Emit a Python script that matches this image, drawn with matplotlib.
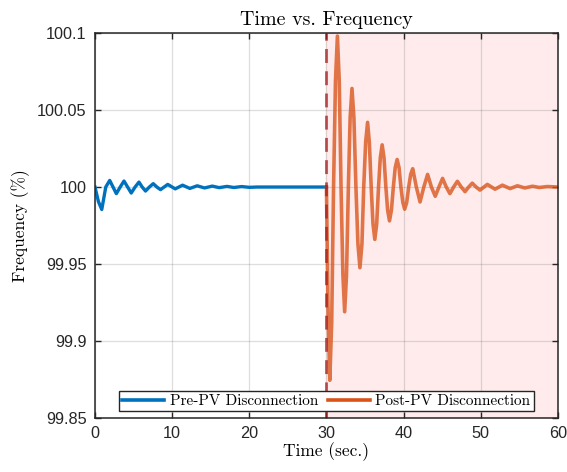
import matplotlib
matplotlib.use("Agg")
import matplotlib.pyplot as plt
from matplotlib.lines import Line2D

# points (time in s, frequency in %)
pre_t = [0, 0.45, 0.88, 1.4, 1.91, 2.34, 2.77, 3.27, 3.76, 4.23, 4.70, 5.2, 5.70,
         6.12, 6.55, 7.05, 7.55, 8.02, 8.49, 9.43, 10.4, 11.35, 12.3, 13.25, 14.2,
         15.2, 16.1, 17.1, 18.0, 19.0, 20.0, 21.0, 30.0]
pre_f = [100.0, 99.9905, 99.9854, 100.0, 100.0043, 100.0, 99.9957, 100.0, 100.0039,
         100.0, 99.9961, 100.0, 100.0032, 100.0, 99.9974, 100.0, 100.0022, 100.0,
         99.9983, 100.0017, 99.9988, 100.0012, 99.9991, 100.0008, 99.9994,
         100.0006, 99.9996, 100.0004, 99.9997, 100.0003, 99.9998, 100.0, 100.0]

post_t = [30.0, 30.2, 30.43, 30.68, 30.92, 31.17, 31.42, 31.66, 31.89, 32.13,
          32.36, 32.6, 32.84, 33.07, 33.31, 33.56, 33.82, 34.08, 34.34, 34.6,
          34.83, 35.08, 35.33, 35.56, 35.8, 36.03, 36.27, 36.51, 36.75, 36.98,
          37.22, 37.46, 37.7, 37.93, 38.17, 38.42, 38.67, 38.91, 39.16, 39.41,
          39.65, 39.9, 40.14, 40.4, 40.66, 40.92, 41.18, 41.65, 42.13, 42.62,
          43.11, 43.6, 44.10, 44.58, 45.05, 45.53, 46.0, 46.48, 46.97, 47.47,
          47.96, 48.43, 48.9, 49.4, 49.9, 50.85, 51.85, 52.8, 53.8, 54.75,
          55.7, 56.7, 57.6, 58.6, 60.0]
post_f = [100.0, 99.922, 99.8745, 99.912, 100.0, 100.069, 100.098, 100.069,
          100.0, 99.943, 99.919, 99.943, 100.0, 100.045, 100.064, 100.045,
          100.0, 99.963, 99.9476, 99.963, 100.0, 100.029, 100.042, 100.029,
          100.0, 99.976, 99.966, 99.976, 100.0, 100.019, 100.0274, 100.019,
          100.0, 99.985, 99.978, 99.985, 100.0, 100.0125, 100.0179, 100.0125,
          100.0, 99.990, 99.9856, 99.990, 100.0, 100.0083, 100.0119, 100.0,
          99.9903, 100.0, 100.0082, 100.0, 99.994, 100.0, 100.0056, 100.0,
          99.9957, 100.0, 100.0037, 100.0, 99.997, 100.0, 100.0025, 100.0,
          99.998, 100.0017, 99.9986, 100.0012, 99.999, 100.0008, 99.9994,
          100.0005, 99.9997, 100.0003, 100.0]

t_event = 30
x_ticks = [0, 10, 20, 30, 40, 50, 60]
y_ticks = [99.85, 99.9, 99.95, 100, 100.05, 100.1]
y_labels = ["99.85", "99.9", "99.95", "100", "100.05", "100.1"]

blue = "#0072BD"
orange = "#D95319"
serif = "cmr10"

fig = plt.figure(figsize=(5.67, 4.72), dpi=100)
ax = fig.add_axes([0.1675, 0.1144, 0.8165, 0.8156])

ax.axvspan(t_event, 60, color="#FFEBEB", zorder=0)
ax.plot(pre_t, pre_f, color=blue, lw=2.4, zorder=3, solid_joinstyle="round")
ax.plot(post_t, post_f, color=orange, lw=2.6, alpha=0.78, zorder=3,
        solid_joinstyle="round")
ax.axvline(t_event, color="#A51C1C", alpha=0.75, lw=2.0, ls=(0, (5, 3)), zorder=4)

ax.set_xlim(0, 60)
ax.set_ylim(99.85, 100.1)
ax.set_xticks(x_ticks)
ax.set_yticks(y_ticks)
ax.set_yticklabels(y_labels)
ax.grid(True, color="#262626", alpha=0.15, lw=0.9, zorder=1)
ax.set_axisbelow(True)
ax.tick_params(direction="in", top=True, right=True, length=4.5, width=1.0,
               colors="#262626", labelsize=11.7, pad=6)
for lab in ax.get_xticklabels() + ax.get_yticklabels():
    lab.set_fontfamily("Liberation Sans")
for sp in ax.spines.values():
    sp.set_color("#262626")
    sp.set_linewidth(1.1)
    sp.set_zorder(5)

ax.set_title("Time vs. Frequency", fontfamily=serif, fontsize=14.4, pad=6)
ax.set_xlabel("Time (sec.)", fontfamily=serif, fontsize=12.5, labelpad=1)
ax.set_ylabel("Frequency (%)", fontfamily=serif, fontsize=12.5, labelpad=5)

handles = [Line2D([], [], color=blue, lw=2.6), Line2D([], [], color=orange, lw=2.6)]
leg = ax.legend(handles, ["Pre-PV Disconnection", "Post-PV Disconnection"],
                loc="lower center", bbox_to_anchor=(0.5, 0.018), ncol=2,
                prop={"family": serif, "size": 11}, fancybox=False,
                framealpha=1, edgecolor="#262626", handlelength=2.75,
                columnspacing=0.65, handletextpad=0.35, borderpad=0.2,
                borderaxespad=0)
leg.get_frame().set_linewidth(1.0)
leg.set_zorder(6)

fig.savefig("out.png", dpi=100)
